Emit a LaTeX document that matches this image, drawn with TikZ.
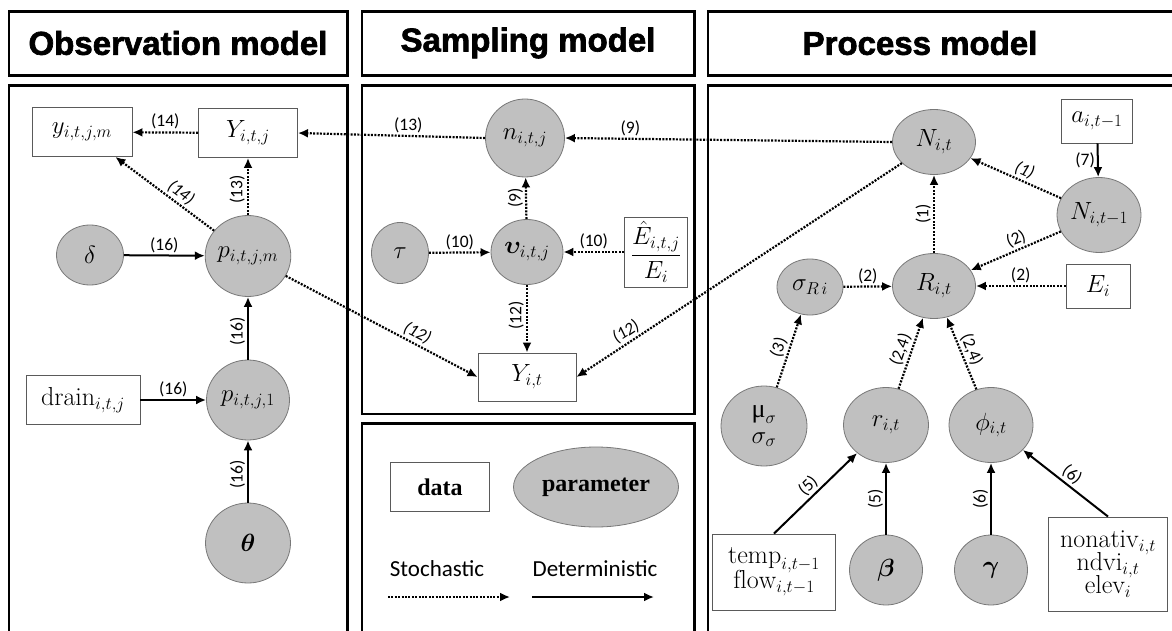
\documentclass[tikz,border=0pt]{standalone}
\usepackage{amsmath,bm}
\usepackage{fontspec}
\usetikzlibrary{shapes.geometric,arrows.meta}
\newfontfamily\hdrfont{Liberation Sans}[BoldFeatures={FakeBold=2}]
\newfontfamily\lblfont{Carlito}
\newfontfamily\legfont{Liberation Serif}
\newfontfamily\upgr{Liberation Serif}
\definecolor{parfill}{RGB}{192,192,192}
\definecolor{parline}{RGB}{120,120,120}
\definecolor{boxline}{RGB}{90,90,90}
\tikzset{
  panel/.style={line width=2.8pt,draw=black},
  hdr/.style={font=\hdrfont\bfseries\fontsize{33}{36}\selectfont},
  par/.style={ellipse,fill=parfill,draw=parline,line width=0.8pt,inner sep=0pt,font=\fontsize{26}{30}\selectfont},
  dat/.style={rectangle,draw=boxline,line width=0.9pt,inner sep=0pt,fill=white,font=\fontsize{26}{30}\selectfont},
  sto/.style={line width=2.2pt,dash pattern=on 2pt off 1.4pt,-{Latex[length=10pt,width=9pt]}},
  det/.style={line width=2pt,-{Latex[length=10pt,width=9pt]}},
  lbl/.style={font=\lblfont\fontsize{17.5}{19}\selectfont,inner sep=2pt},
  ilbl/.style={font=\lblfont\itshape\fontsize{17.5}{19}\selectfont,inner sep=2pt},
}
\begin{document}
\begin{tikzpicture}[x=1pt,y=-1pt]
\useasboundingbox (0,0) rectangle (1172,631);
\clip (0,0) rectangle (1172,631);
% panels
\draw[panel] (9,11.5) rectangle (347.5,75.5);
\draw[panel] (362,11.5) rectangle (694.5,75.5);
\draw[panel] (708,11.5) rectangle (1190,75.5);
\draw[panel] (9,85.5) rectangle (347.5,650);
\draw[panel] (362,85.5) rectangle (694.5,414);
\draw[panel] (362,423.5) rectangle (694.5,650);
\draw[panel] (708,85.5) rectangle (1190,650);
\node[hdr] (h1) at (178,43) {Observation model};
\node[hdr] (h2) at (528,43) {Sampling model};
\node[hdr] (h3) at (920,43) {Process model};

% observation model
\node[dat,minimum width=100,minimum height=49] (yobs) at (82,132) {$y_{i,t,j,m}$};
\node[dat,minimum width=99,minimum height=49] (Yitj) at (248,133) {$Y_{i,t,j}$};
\node[par,minimum width=67,minimum height=60] (delta) at (90,255) {$\delta$};
\node[par,minimum width=83,minimum height=81] (pm) at (248,256) {$p_{i,t,j,m}$};
\node[par,minimum width=83,minimum height=80] (p1) at (248,400) {$p_{i,t,j,1}$};
\node[dat,minimum width=114,minimum height=49] (drain) at (83,400) {$\mathrm{drain}_{i,t,j}$};
\node[par,minimum width=85,minimum height=80] (theta) at (248,543) {$\bm{\theta}$};

% sampling model
\node[par,minimum width=79,minimum height=78] (n) at (525,138) {$n_{i,t,j}$};
\node[par,minimum width=72,minimum height=65] (ups) at (527,252) {$\bm{\upsilon}_{i,t,j}$};
\node[par,minimum width=57,minimum height=61] (tau) at (400,253) {$\tau$};
\node[dat,minimum width=63,minimum height=70] (Ehat) at (656,252) {$\dfrac{\hat{E}_{i,t,j}}{E_i}$};
\node[dat,minimum width=98,minimum height=48] (Yit) at (527,377) {$Y_{i,t}$};

% legend
\node[dat,minimum width=99,minimum height=49,font=\legfont\bfseries\fontsize{24}{28}\selectfont] (ldat) at (440,487) {data};
\node[par,minimum width=165,minimum height=80,font=\legfont\bfseries\fontsize{24}{28}\selectfont] (lpar) at (596,487) {parameter};
\node[font=\lblfont\fontsize{23}{26}\selectfont] (lsto) at (437,569) {Stochastic};
\node[font=\lblfont\fontsize{23}{26}\selectfont] (ldet) at (595,569) {Deterministic};
\coordinate (s1) at (388,597); \coordinate (s2) at (510,597);
\coordinate (d1) at (532,597); \coordinate (d2) at (654,597);
\draw[sto] (s1) -- (s2);
\draw[det] (d1) -- (d2);

% process model
\node[par,minimum width=83,minimum height=65] (Nit) at (934,142) {$N_{i,t}$};
\node[dat,minimum width=71,minimum height=44] (a) at (1097,121) {$a_{i,t-1}$};
\node[par,minimum width=84,minimum height=75] (Nt1) at (1099,215) {$N_{i,t-1}$};
\node[par,minimum width=83,minimum height=65] (R) at (934,286) {$R_{i,t}$};
\node[par,minimum width=66,minimum height=56] (sR) at (810,287) {$\sigma_{R\,i}$};
\node[dat,minimum width=64,minimum height=44] (Ei) at (1098,286) {$E_i$};
\node[par,minimum width=86,minimum height=80,align=center] (mu) at (764,426) {$\text{\upgr μ}_{\sigma}$\\[-4pt]$\sigma_{\sigma}$};
\node[par,minimum width=85,minimum height=75] (r) at (886,425) {$r_{i,t}$};
\node[par,minimum width=84,minimum height=75] (phi) at (991,425) {$\phi_{i,t}$};
\node[dat,minimum width=123,minimum height=76,align=center] (temp) at (774,572) {$\mathrm{temp}_{i,t-1}$\\[-5pt]$\mathrm{flow}_{i,t-1}$};
\node[par,minimum width=73,minimum height=70] (beta) at (886,570) {$\bm{\beta}$};
\node[par,minimum width=73,minimum height=70] (gamma) at (991,570) {$\bm{\gamma}$};
\node[dat,minimum width=119,minimum height=94,align=center] (cov) at (1108,564) {$\mathrm{nonativ}_{i,t}$\\[-7pt]$\mathrm{ndvi}_{i,t}$\\[-7pt]$\mathrm{elev}_{i}$};

% connectors: observation
\draw[sto] (Yitj) -- node[lbl,above]{(14)} (yobs);
\draw[sto] (pm) -- node[lbl,pos=0.45,anchor=south,rotate=90]{(13)} (Yitj);
\draw[sto] (pm) -- node[ilbl,pos=0.4,sloped,above]{(14)} (yobs);
\draw[det] (delta) -- node[lbl,above]{(16)} (pm);
\draw[det] (p1) -- node[lbl,pos=0.45,anchor=south,rotate=90]{(16)} (pm);
\draw[det] (drain) -- node[lbl,above]{(16)} (p1);
\draw[det] (theta) -- node[lbl,pos=0.45,anchor=south,rotate=90]{(16)} (p1);
% sampling
\draw[sto] (n.west) -- node[lbl,pos=0.41,above]{(13)} (Yitj.east);
\draw[sto] (Nit.west) -- node[lbl,pos=0.8,above]{(9)} (n.east);
\draw[sto] (ups) -- node[lbl,pos=0.5,anchor=south,rotate=90]{(9)} (n);
\draw[sto] (ups) -- node[lbl,pos=0.45,anchor=south,rotate=90]{(12)} (Yit);
\draw[sto] (tau) -- node[lbl,above]{(10)} (ups);
\draw[sto] (Ehat) -- node[lbl,above]{(10)} (ups);
\draw[sto] (pm) -- node[ilbl,pos=0.66,sloped,above]{(12)} (Yit.west);
\draw[sto] (Nit) -- node[ilbl,pos=0.83,sloped,above]{(12)} (Yit.east);
% process
\draw[sto] (R) -- node[lbl,pos=0.5,anchor=south,rotate=90]{(1)} (Nit);
\draw[sto] (Nt1) -- node[ilbl,pos=0.45,sloped,above]{(1)} (Nit);
\draw[sto] (Nt1) -- node[lbl,pos=0.45,sloped,above]{(2)} (R);
\draw[det] (a) -- node[lbl,left]{(7)} (Nt1);
\draw[sto] (sR) -- node[lbl,above]{(2)} (R);
\draw[sto] (Ei) -- node[lbl,above]{(2)} (R);
\draw[sto] (mu) -- node[lbl,sloped,above]{(3)} (sR);
\draw[sto] (r) -- node[lbl,sloped,above]{(2,4)} (R);
\draw[sto] (phi) -- node[lbl,sloped,above]{(2,4)} (R);
\draw[det] (temp.north) -- node[lbl,sloped,above]{(5)} (r);
\draw[det] (beta) -- node[lbl,pos=0.5,anchor=south,rotate=90]{(5)} (r);
\draw[det] (gamma) -- node[lbl,pos=0.5,anchor=south,rotate=90]{(6)} (phi);
\draw[det] (cov.north) -- node[lbl,sloped,above]{(6)} (phi);
\end{tikzpicture}
\end{document}
